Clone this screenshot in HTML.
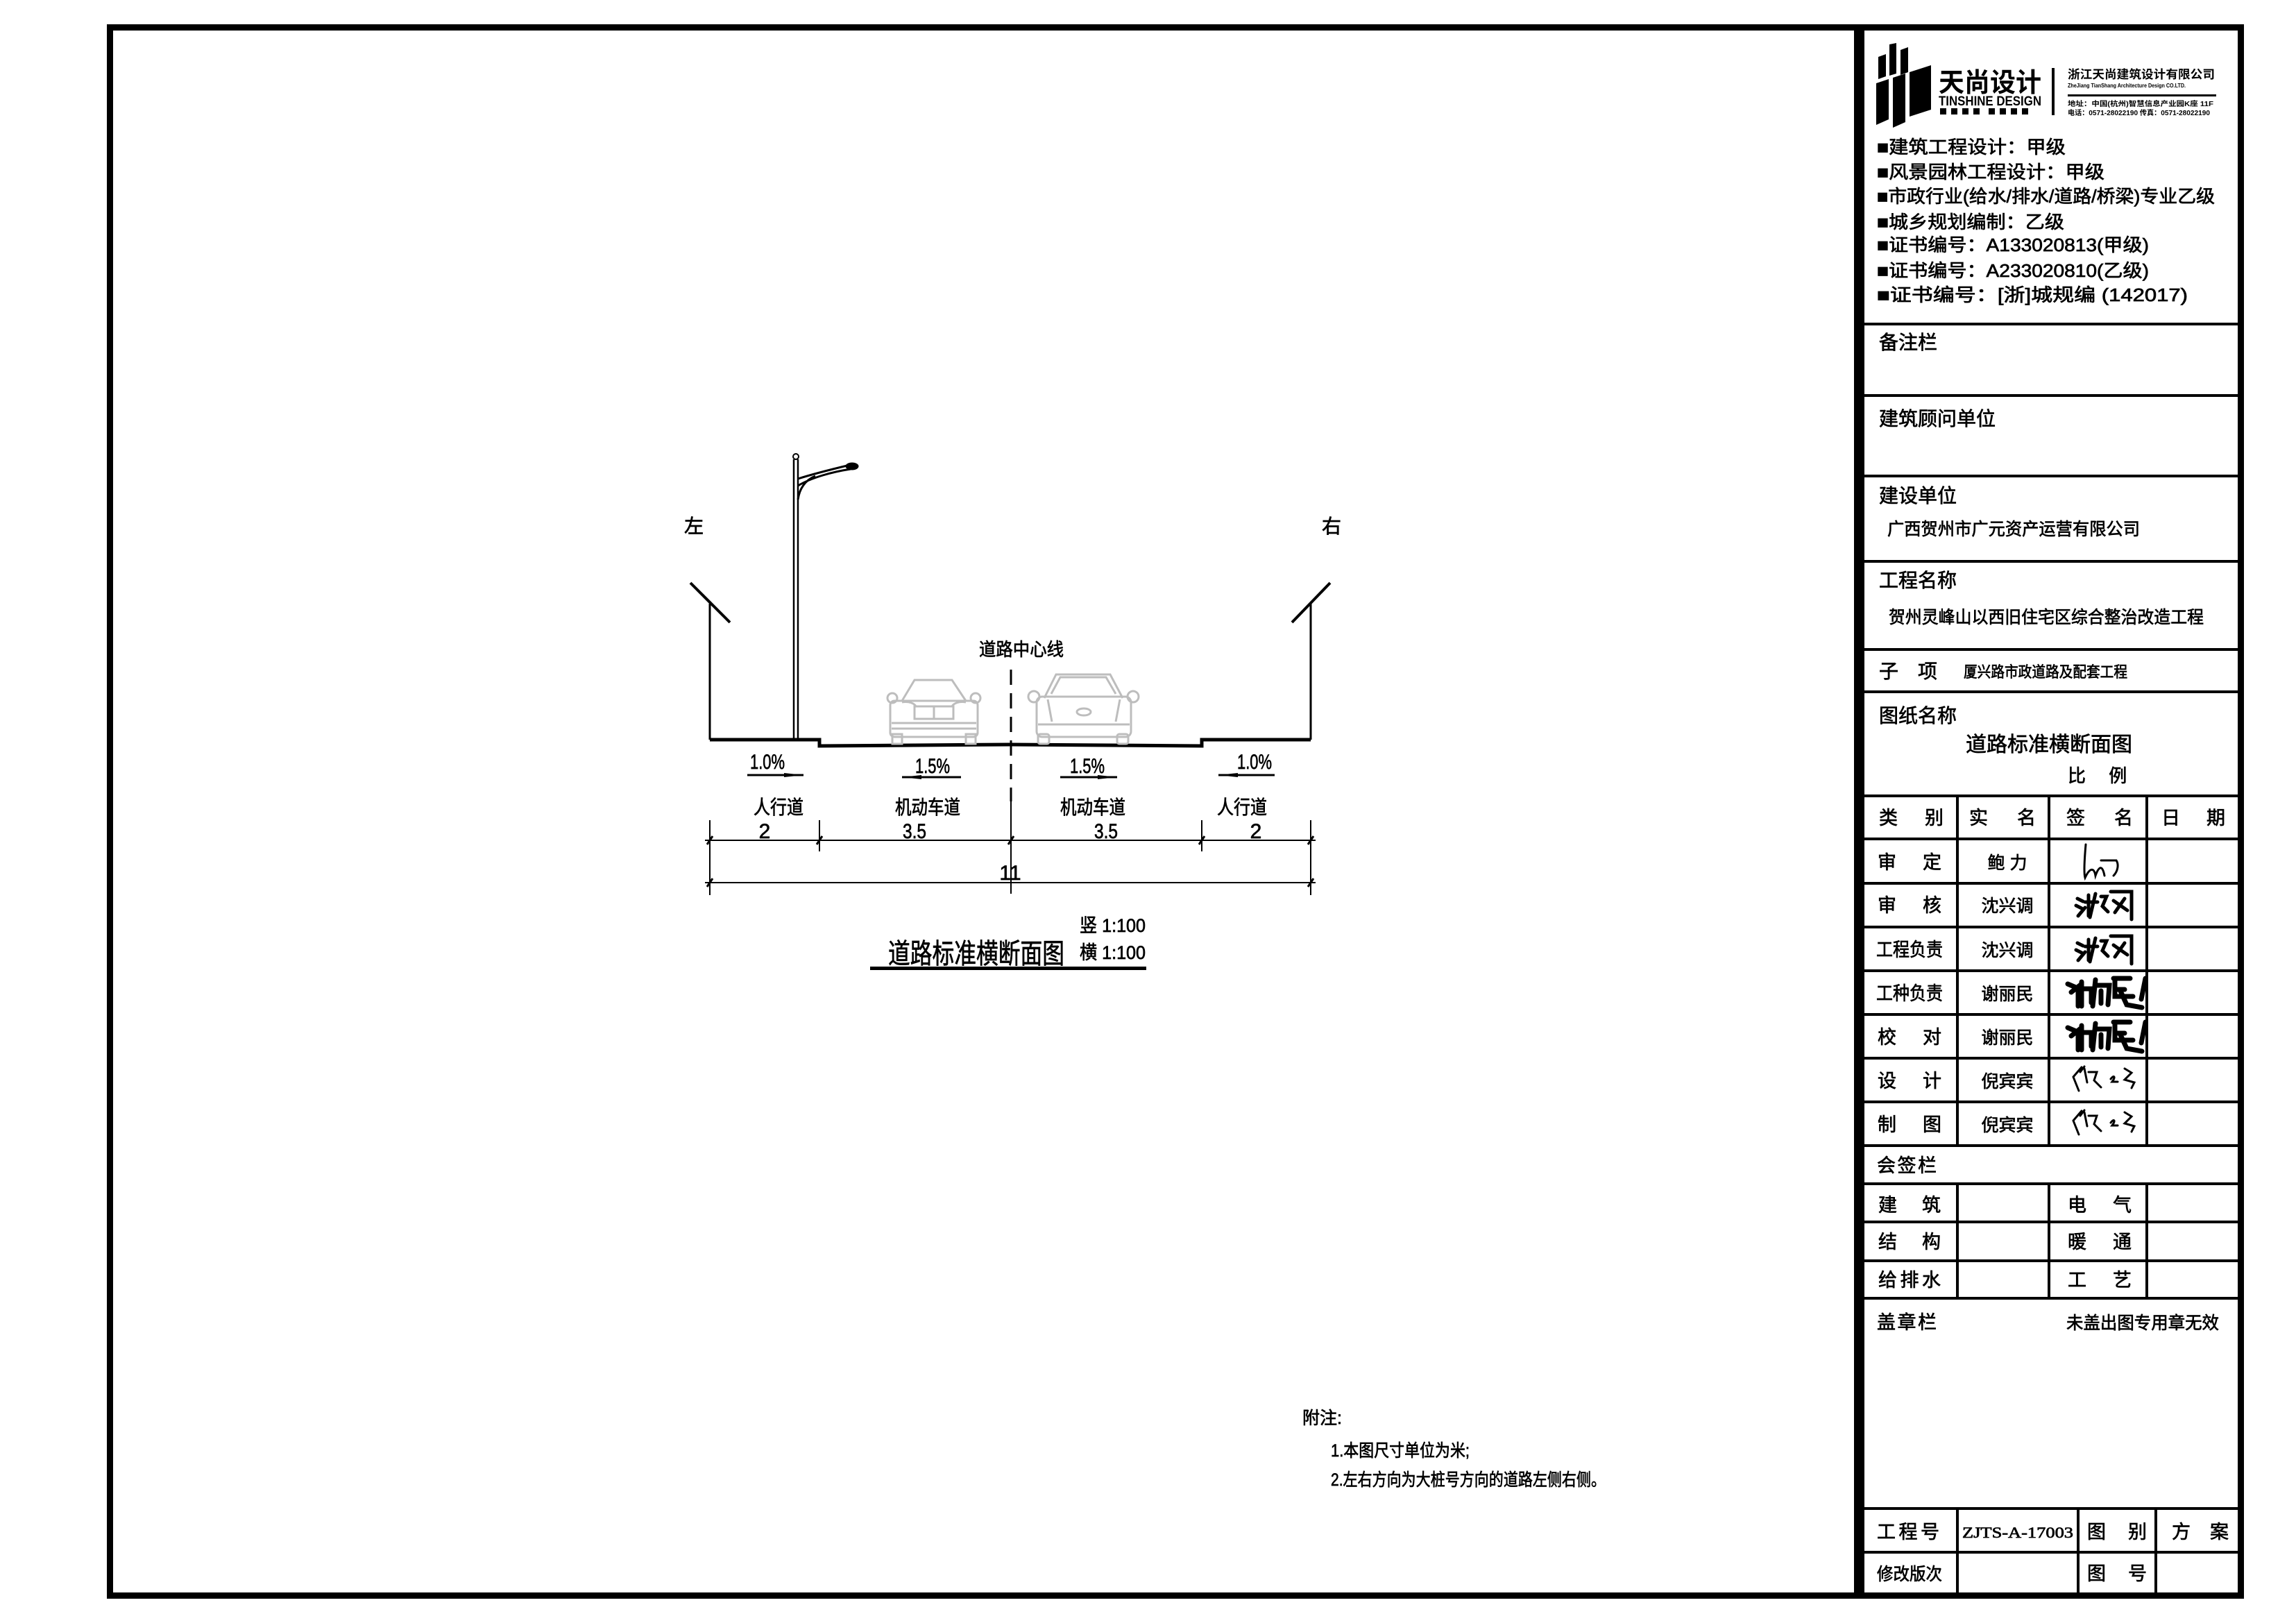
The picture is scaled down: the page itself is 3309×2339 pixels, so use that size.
<!DOCTYPE html>
<html><head><meta charset="utf-8"><style>
html,body{margin:0;padding:0;background:#fff;}
svg{display:block;}
text{font-family:"Liberation Sans","Noto Sans CJK SC",sans-serif;fill:#000;}
.s{font-family:"Liberation Serif","Noto Serif CJK SC","Noto Sans CJK SC",serif;}
.b text{stroke:#000;stroke-width:0.7;}
</style></head><body>
<svg width="3309" height="2339" viewBox="0 0 3309 2339" xmlns="http://www.w3.org/2000/svg">
<rect x="0" y="0" width="3309" height="2339" fill="#fff"/>
<rect x="158.5" y="39.5" width="3071" height="2260" fill="none" stroke="#000" stroke-width="9"/>
<rect x="2672" y="36" width="15" height="2268" fill="#000"/>
<g stroke="#000" stroke-width="4">
<line x1="2687" y1="467" x2="3228" y2="467"/>
<line x1="2687" y1="570" x2="3228" y2="570"/>
<line x1="2687" y1="686" x2="3228" y2="686"/>
<line x1="2687" y1="809" x2="3228" y2="809"/>
<line x1="2687" y1="936" x2="3228" y2="936"/>
<line x1="2687" y1="997" x2="3228" y2="997"/>
<line x1="2687" y1="1147" x2="3228" y2="1147"/>
<line x1="2687" y1="1209" x2="3228" y2="1209"/>
<line x1="2687" y1="1273" x2="3228" y2="1273"/>
<line x1="2687" y1="1336" x2="3228" y2="1336"/>
<line x1="2687" y1="1399" x2="3228" y2="1399"/>
<line x1="2687" y1="1462" x2="3228" y2="1462"/>
<line x1="2687" y1="1525" x2="3228" y2="1525"/>
<line x1="2687" y1="1588" x2="3228" y2="1588"/>
<line x1="2687" y1="1651" x2="3228" y2="1651"/>
<line x1="2687" y1="1706" x2="3228" y2="1706"/>
<line x1="2687" y1="1761" x2="3228" y2="1761"/>
<line x1="2687" y1="1817" x2="3228" y2="1817"/>
<line x1="2687" y1="1871" x2="3228" y2="1871"/>
<line x1="2687" y1="2174" x2="3228" y2="2174"/>
<line x1="2687" y1="2237" x2="3228" y2="2237"/>
<line x1="2821" y1="1147" x2="2821" y2="1651"/>
<line x1="2953" y1="1147" x2="2953" y2="1651"/>
<line x1="3094" y1="1147" x2="3094" y2="1651"/>
<line x1="2821" y1="1706" x2="2821" y2="1871"/>
<line x1="2953" y1="1706" x2="2953" y2="1871"/>
<line x1="3094" y1="1706" x2="3094" y2="1871"/>
<line x1="2821" y1="2174" x2="2821" y2="2300"/>
<line x1="2995" y1="2174" x2="2995" y2="2300"/>
<line x1="3107" y1="2174" x2="3107" y2="2300"/>
</g>

<g fill="#000">
<polygon points="2707,82 2718,78 2718,110 2707,114"/>
<polygon points="2723,64 2733,62 2733,106 2723,109"/>
<polygon points="2739,72 2750,68 2750,104 2739,108"/>
<polygon points="2704,120 2722,114 2722,172 2704,180"/>
<polygon points="2728,112 2746,106 2746,176 2728,184"/>
<polygon points="2752,104 2783,94 2783,158 2752,168"/>
</g>
<text x="2794" y="132" font-size="38" font-weight="bold" textLength="148" lengthAdjust="spacingAndGlyphs">天尚设计</text>
<text x="2794" y="152" font-size="19" font-weight="bold" textLength="148" lengthAdjust="spacingAndGlyphs">TINSHINE DESIGN</text>
<g fill="#000"><rect x="2796" y="156" width="9" height="9"/><rect x="2812" y="156" width="9" height="9"/><rect x="2828" y="156" width="9" height="9"/><rect x="2844" y="156" width="9" height="9"/><rect x="2866" y="156" width="9" height="9"/><rect x="2882" y="156" width="9" height="9"/><rect x="2898" y="156" width="9" height="9"/><rect x="2914" y="156" width="9" height="9"/></g>
<rect x="2957" y="98" width="4" height="68" fill="#000"/>
<text x="2980" y="113" font-size="17" font-weight="bold" textLength="212" lengthAdjust="spacingAndGlyphs">浙江天尚建筑设计有限公司</text>
<text x="2980" y="126" font-size="8" font-weight="bold" textLength="170" lengthAdjust="spacingAndGlyphs">ZheJiang TianShang Architecture Design CO.LTD.</text>
<rect x="2980" y="136" width="214" height="3" fill="#000"/>
<text x="2980" y="153" font-size="10" font-weight="bold" textLength="210" lengthAdjust="spacingAndGlyphs">地址：中国(杭州)智慧信息产业园K座 11F</text>
<text x="2980" y="166" font-size="10" font-weight="bold" textLength="205" lengthAdjust="spacingAndGlyphs">电话：0571-28022190 传真：0571-28022190</text>

<g font-size="26" class="s b">
<text x="2705" y="221" textLength="272" lengthAdjust="spacingAndGlyphs">■建筑工程设计：甲级</text>
<text x="2705" y="257" textLength="328" lengthAdjust="spacingAndGlyphs">■风景园林工程设计：甲级</text>
<text x="2705" y="292" textLength="487" lengthAdjust="spacingAndGlyphs">■市政行业(给水/排水/道路/桥梁)专业乙级</text>
<text x="2705" y="329" textLength="270" lengthAdjust="spacingAndGlyphs">■城乡规划编制：乙级</text>
<text x="2705" y="362" textLength="392" lengthAdjust="spacingAndGlyphs">■证书编号：A133020813(甲级)</text>
<text x="2705" y="399" textLength="392" lengthAdjust="spacingAndGlyphs">■证书编号：A233020810(乙级)</text>
<text x="2705" y="434" textLength="448" lengthAdjust="spacingAndGlyphs">■证书编号：[浙]城规编  (142017)</text>
</g>

<g font-size="28" class="b">
<text x="2708" y="503">备注栏</text>
<text x="2708" y="613">建筑顾问单位</text>
<text x="2708" y="724">建设单位</text>
<text x="2720" y="771" font-size="25" textLength="364" lengthAdjust="spacingAndGlyphs">广西贺州市广元资产运营有限公司</text>
<text x="2708" y="846">工程名称</text>
<text x="2722" y="898" font-size="25" textLength="454" lengthAdjust="spacingAndGlyphs">贺州灵峰山以西旧住宅区综合整治改造工程</text>
<text x="2708" y="977">子　项</text>
<text x="2830" y="976" font-size="22" textLength="236" lengthAdjust="spacingAndGlyphs">厦兴路市政道路及配套工程</text>
<text x="2708" y="1041">图纸名称</text>
<text x="2953" y="1083" font-size="30" text-anchor="middle">道路标准横断面图</text>
<text x="2980" y="1127" font-size="26">比　 例</text>
</g>

<g font-size="27" class="b">
<text x="2708" y="1188" textLength="93" lengthAdjust="spacing">类别</text>
<text x="2838" y="1188" textLength="96" lengthAdjust="spacing">实名</text>
<text x="2978" y="1188" textLength="96" lengthAdjust="spacing">签名</text>
<text x="3115" y="1188" textLength="92" lengthAdjust="spacing">日期</text>
<text x="2706" y="1252" textLength="92" lengthAdjust="spacing">审定</text>
<text x="2706" y="1314" textLength="92" lengthAdjust="spacing">审核</text>
<text x="2704" y="1378" textLength="96" lengthAdjust="spacingAndGlyphs">工程负责</text>
<text x="2704" y="1441" textLength="96" lengthAdjust="spacingAndGlyphs">工种负责</text>
<text x="2706" y="1504" textLength="92" lengthAdjust="spacing">校对</text>
<text x="2706" y="1567" textLength="92" lengthAdjust="spacing">设计</text>
<text x="2706" y="1630" textLength="92" lengthAdjust="spacing">制图</text>
</g>
<g font-size="25" text-anchor="middle" class="b">
<text x="2893" y="1252">鲍 力</text>
<text x="2893" y="1314">沈兴调</text>
<text x="2893" y="1378">沈兴调</text>
<text x="2893" y="1441">谢丽民</text>
<text x="2893" y="1504">谢丽民</text>
<text x="2893" y="1567">倪宾宾</text>
<text x="2893" y="1630">倪宾宾</text>
</g>
<g fill="none" stroke="#000" stroke-linecap="round">
<path d="M3006,1217 C3004,1240 3003,1258 3005,1265 C3012,1250 3018,1250 3020,1262 C3025,1248 3030,1246 3033,1262 M3028,1240 L3050,1240 C3054,1246 3052,1256 3046,1262" stroke-width="3"/>
<path d="M2994,1295 l8,4 M2992,1305 l8,4 M2995,1320 l10,-12 M3010,1290 l0,30 M3005,1300 l18,0 M3020,1288 l-8,34 M3028,1292 l8,0 l-6,14 l8,8 M3042,1285 l30,0 l0,40 M3046,1298 l20,14 M3062,1295 l-14,20" stroke-width="5"/>
<path d="M2994,1359 l8,4 M2992,1369 l8,4 M2995,1384 l10,-12 M3010,1354 l0,30 M3005,1364 l18,0 M3020,1352 l-8,34 M3028,1356 l8,0 l-6,14 l8,8 M3042,1349 l30,0 l0,40 M3046,1362 l20,14 M3062,1359 l-14,20" stroke-width="5"/>
<path d="M2980,1418 l14,6 M2985,1430 l10,-8 l0,28 M3000,1415 l0,35 M2998,1425 l16,0 l0,20 M3020,1412 l-4,38 M3022,1420 l18,0 l-2,28 M3028,1428 l0,18 M3046,1410 l24,0 M3048,1412 l0,24 l26,0 M3050,1426 l12,0 M3055,1426 l10,22 l22,4 M3092,1410 l-6,30" stroke-width="7"/>
<path d="M2980,1481 l14,6 M2985,1493 l10,-8 l0,28 M3000,1478 l0,35 M2998,1488 l16,0 l0,20 M3020,1475 l-4,38 M3022,1483 l18,0 l-2,28 M3028,1491 l0,18 M3046,1473 l24,0 M3048,1475 l0,24 l26,0 M3050,1489 l12,0 M3055,1489 l10,22 l22,4 M3092,1473 l-6,30" stroke-width="7"/>
<path d="M2988,1552 l12,-14 M2988,1552 l8,20 M2998,1545 l6,-8 M3004,1540 l4,20 M3010,1545 l12,0 l-4,12 l10,10 M3042,1555 c4,-6 8,-4 2,4 l8,0 M3062,1540 l10,6 l-10,10 l14,4 l-4,8" stroke-width="3"/>
<path d="M2988,1615 l12,-14 M2988,1615 l8,20 M2998,1608 l6,-8 M3004,1603 l4,20 M3010,1608 l12,0 l-4,12 l10,10 M3042,1618 c4,-6 8,-4 2,4 l8,0 M3062,1603 l10,6 l-10,10 l14,4 l-4,8" stroke-width="3"/>
</g>

<g font-size="27" class="b">
<text x="2705" y="1689" textLength="86" lengthAdjust="spacing">会签栏</text>
<text x="2707" y="1746" textLength="90" lengthAdjust="spacing">建筑</text>
<text x="2980" y="1746" textLength="92" lengthAdjust="spacing">电气</text>
<text x="2707" y="1799" textLength="90" lengthAdjust="spacing">结构</text>
<text x="2980" y="1799" textLength="92" lengthAdjust="spacing">暖通</text>
<text x="2707" y="1854" textLength="90" lengthAdjust="spacing">给排水</text>
<text x="2980" y="1854" textLength="92" lengthAdjust="spacing">工艺</text>
<text x="2705" y="1915" textLength="86" lengthAdjust="spacing">盖章栏</text>
<text x="2978" y="1915" font-size="25" textLength="220" lengthAdjust="spacingAndGlyphs">未盖出图专用章无效</text>
<text x="2705" y="2217" textLength="90" lengthAdjust="spacing">工程号</text>
<text x="2828" y="2216" font-size="22" class="s" textLength="160" lengthAdjust="spacingAndGlyphs">ZJTS-A-17003</text>
<text x="3008" y="2217" textLength="86" lengthAdjust="spacing">图别</text>
<text x="3130" y="2217" textLength="82" lengthAdjust="spacing">方案</text>
<text x="2705" y="2277" font-size="25" textLength="94" lengthAdjust="spacingAndGlyphs">修改版次</text>
<text x="3008" y="2277" textLength="86" lengthAdjust="spacing">图号</text>
</g>

<g fill="none" stroke="#000">
<line x1="995" y1="840" x2="1052" y2="897" stroke-width="4"/>
<line x1="1023" y1="870" x2="1023" y2="1066" stroke-width="3"/>
<line x1="1917" y1="840" x2="1862" y2="897" stroke-width="4"/>
<line x1="1889" y1="870" x2="1889" y2="1066" stroke-width="3"/>
<polyline points="1023,1066 1181,1066 1181,1075 1456,1073 1732,1075 1732,1066 1889,1066" stroke-width="5"/>
<line x1="1144" y1="662" x2="1144" y2="1066" stroke-width="2.5"/>
<line x1="1150" y1="662" x2="1150" y2="1066" stroke-width="2.5"/>
<circle cx="1147" cy="658" r="4" stroke-width="2"/>
<path d="M1150,690 C1175,682 1200,676 1225,670 M1150,700 C1170,688 1200,680 1226,676 M1150,720 C1152,705 1160,692 1175,686" stroke-width="3"/>
<ellipse cx="1228" cy="672" rx="9" ry="5" fill="#000"/>
<line x1="1457" y1="965" x2="1457" y2="1155" stroke-width="3" stroke-dasharray="22,12"/>
<line x1="1457" y1="1155" x2="1457" y2="1288" stroke-width="2"/>
<line x1="1077" y1="1117" x2="1158" y2="1117" stroke-width="3"/>
<line x1="1300" y1="1120" x2="1385" y2="1120" stroke-width="3"/>
<line x1="1528" y1="1120" x2="1610" y2="1120" stroke-width="3"/>
<line x1="1756" y1="1117" x2="1837" y2="1117" stroke-width="3"/>
<line x1="1016" y1="1211" x2="1896" y2="1211" stroke-width="2"/>
<line x1="1016" y1="1272" x2="1896" y2="1272" stroke-width="2"/>
<g stroke-width="2">
<line x1="1023" y1="1182" x2="1023" y2="1290"/>
<line x1="1181" y1="1182" x2="1181" y2="1227"/>
<line x1="1732" y1="1182" x2="1732" y2="1227"/>
<line x1="1889" y1="1182" x2="1889" y2="1290"/>
</g>
<g stroke-width="3">
<line x1="1019" y1="1217" x2="1027" y2="1205"/>
<line x1="1177" y1="1217" x2="1185" y2="1205"/>
<line x1="1453" y1="1217" x2="1461" y2="1205"/>
<line x1="1728" y1="1217" x2="1736" y2="1205"/>
<line x1="1885" y1="1217" x2="1893" y2="1205"/>
<line x1="1019" y1="1278" x2="1027" y2="1266"/>
<line x1="1885" y1="1278" x2="1893" y2="1266"/>
</g>
</g>
<g fill="#000">
<polygon points="1130,1114 1158,1117 1130,1120"/>
<polygon points="1328,1117 1300,1120 1328,1123"/>
<polygon points="1582,1117 1610,1120 1582,1123"/>
<polygon points="1784,1114 1756,1117 1784,1120"/>
</g>
<g fill="none" stroke="#bdbdbd" stroke-width="3">
<path d="M1300,1010 L1318,980 L1372,980 L1392,1010"/>
<rect x="1283" y="1010" width="126" height="52" rx="6"/>
<circle cx="1286" cy="1006" r="7"/><circle cx="1406" cy="1006" r="7"/>
<rect x="1286" y="1058" width="14" height="14"/><rect x="1392" y="1058" width="14" height="14"/>
<rect x="1318" y="1018" width="56" height="18"/>
<line x1="1346" y1="1018" x2="1346" y2="1036"/>
<line x1="1285" y1="1042" x2="1407" y2="1042"/><line x1="1285" y1="1050" x2="1407" y2="1050"/>
<path d="M1300,1012 C1310,1010 1318,1014 1320,1018 M1392,1012 C1382,1010 1374,1014 1372,1018"/>
<path d="M1505,1006 L1522,972 L1600,972 L1618,1006"/>
<path d="M1515,1000 L1528,976 L1594,976 L1608,1000"/>
<rect x="1494" y="1004" width="136" height="58" rx="8"/>
<circle cx="1490" cy="1004" r="8"/><circle cx="1633" cy="1004" r="8"/>
<rect x="1496" y="1058" width="16" height="14" rx="3"/><rect x="1610" y="1058" width="16" height="14" rx="3"/>
<ellipse cx="1562" cy="1026" rx="10" ry="5"/>
<line x1="1496" y1="1044" x2="1628" y2="1044"/>
<path d="M1510,1008 L1516,1040 M1614,1008 L1608,1040"/>
</g>

<g class="s b">
<text x="1000" y="768" font-size="28" text-anchor="middle">左</text>
<text x="1919" y="768" font-size="28" text-anchor="middle">右</text>
<text x="1472" y="945" font-size="26" text-anchor="middle" textLength="122" lengthAdjust="spacingAndGlyphs">道路中心线</text>
<text x="1106" y="1108" font-size="30" text-anchor="middle" textLength="50" lengthAdjust="spacingAndGlyphs">1.0%</text>
<text x="1344" y="1114" font-size="30" text-anchor="middle" textLength="50" lengthAdjust="spacingAndGlyphs">1.5%</text>
<text x="1567" y="1114" font-size="30" text-anchor="middle" textLength="50" lengthAdjust="spacingAndGlyphs">1.5%</text>
<text x="1808" y="1108" font-size="30" text-anchor="middle" textLength="50" lengthAdjust="spacingAndGlyphs">1.0%</text>
<text x="1122" y="1173" font-size="28" text-anchor="middle" textLength="72" lengthAdjust="spacingAndGlyphs">人行道</text>
<text x="1337" y="1173" font-size="28" text-anchor="middle" textLength="94" lengthAdjust="spacingAndGlyphs">机动车道</text>
<text x="1575" y="1173" font-size="28" text-anchor="middle" textLength="94" lengthAdjust="spacingAndGlyphs">机动车道</text>
<text x="1790" y="1173" font-size="28" text-anchor="middle" textLength="72" lengthAdjust="spacingAndGlyphs">人行道</text>
<text x="1102" y="1208" font-size="30" text-anchor="middle">2</text>
<text x="1318" y="1208" font-size="30" text-anchor="middle" textLength="34" lengthAdjust="spacingAndGlyphs">3.5</text>
<text x="1594" y="1208" font-size="30" text-anchor="middle" textLength="34" lengthAdjust="spacingAndGlyphs">3.5</text>
<text x="1810" y="1208" font-size="30" text-anchor="middle">2</text>
<text x="1456" y="1268" font-size="30" text-anchor="middle">11</text>
<text x="1280" y="1388" font-size="40" textLength="254" lengthAdjust="spacingAndGlyphs">道路标准横断面图</text>
<text x="1556" y="1343" font-size="27" textLength="95" lengthAdjust="spacingAndGlyphs">竖 1:100</text>
<text x="1556" y="1382" font-size="27" textLength="95" lengthAdjust="spacingAndGlyphs">横 1:100</text>
</g>
<rect x="1254" y="1393" width="398" height="5" fill="#000"/>

<g font-size="25" class="s b">
<text x="1877" y="2052">附注:</text>
<text x="1918" y="2099" textLength="200" lengthAdjust="spacingAndGlyphs">1.本图尺寸单位为米;</text>
<text x="1918" y="2141" textLength="396" lengthAdjust="spacingAndGlyphs">2.左右方向为大桩号方向的道路左侧右侧。</text>
</g>
</svg>
</body></html>
